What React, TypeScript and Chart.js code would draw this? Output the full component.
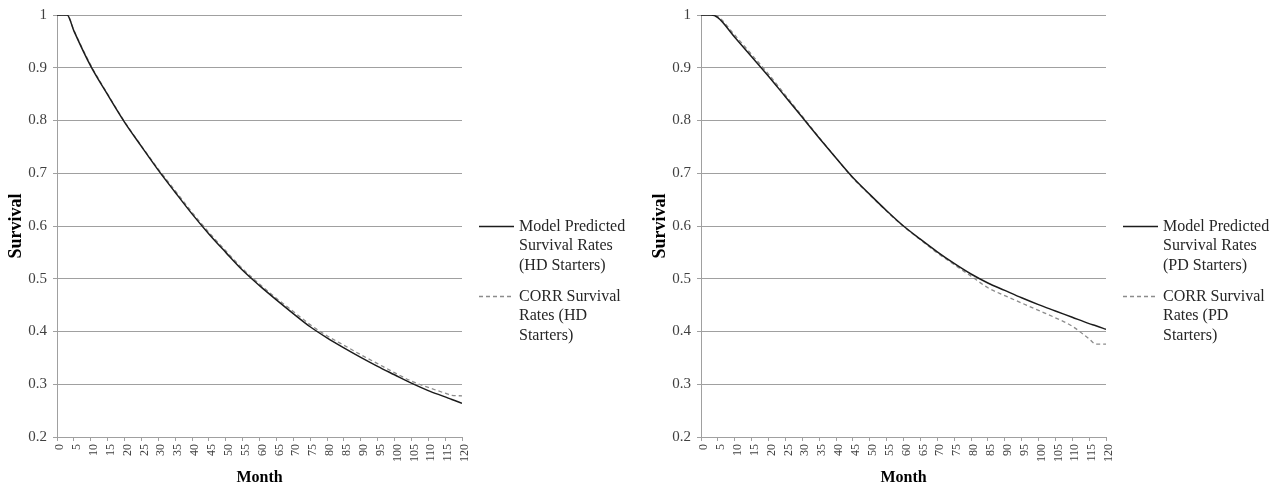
import React, { useEffect, useRef } from 'react';
import { Chart, registerables } from 'chart.js';

Chart.register(...registerables);

// ---------- data ----------
const months = [0, 3, 5, 10, 15, 20, 25, 30, 35, 40, 45, 50, 55, 60, 65, 70, 75, 80, 85, 90, 95, 100, 105, 110, 115, 117, 120];

const hdModel = [1, 1, 0.97, 0.903, 0.849, 0.797, 0.751, 0.706, 0.664, 0.623, 0.585, 0.55, 0.516, 0.487, 0.46, 0.434, 0.409, 0.388, 0.369, 0.351, 0.334, 0.318, 0.302, 0.288, 0.276, 0.271, 0.264];
const hdCorr = [1, 1, 0.971, 0.905, 0.85, 0.798, 0.752, 0.708, 0.667, 0.626, 0.588, 0.553, 0.519, 0.49, 0.463, 0.438, 0.413, 0.392, 0.374, 0.356, 0.339, 0.322, 0.306, 0.294, 0.283, 0.279, 0.278];

const pdModel = [1, 1, 0.995, 0.958, 0.921, 0.884, 0.845, 0.806, 0.767, 0.729, 0.692, 0.66, 0.629, 0.6, 0.575, 0.551, 0.529, 0.509, 0.492, 0.478, 0.464, 0.451, 0.439, 0.427, 0.415, 0.411, 0.404];
const pdCorr = [1, 1, 0.997, 0.962, 0.925, 0.888, 0.848, 0.808, 0.768, 0.729, 0.691, 0.659, 0.628, 0.599, 0.574, 0.549, 0.527, 0.505, 0.483, 0.468, 0.454, 0.44, 0.426, 0.41, 0.386, 0.376, 0.376];

const xMin = 0;
const xMax = 120;
const xStep = 5;
const yMin = 0.2;
const yMax = 1;
const yStep = 0.1;

const xTitle = 'Month';
const yTitle = 'Survival';

const hdLegendModel = ['Model Predicted', 'Survival Rates', '(HD Starters)'];
const hdLegendCorr = ['CORR Survival', 'Rates (HD', 'Starters)'];
const pdLegendModel = ['Model Predicted', 'Survival Rates', '(PD Starters)'];
const pdLegendCorr = ['CORR Survival', 'Rates (PD', 'Starters)'];

// ---------- styling ----------
const FONT = "'Liberation Serif', 'Times New Roman', serif";
const GRID = '#a0a0a0';
const TICK_COLOR = '#404040';
const MODEL_COLOR = '#1c1c1c';
const CORR_COLOR = '#8c8c8c';
const CORR_DASH = [4, 3];

const sideLegend = {
  id: 'sideLegend',
  afterDraw(chart: any, _args: any, opts: any) {
    const ctx = chart.ctx as CanvasRenderingContext2D;
    const area = chart.chartArea;
    const lx0 = area.right + 17;
    const lx1 = lx0 + 35;
    const tx = lx1 + 5;
    const lineH = 19.5;
    const startY = (area.top + area.bottom) / 2 + 0.5;
    const gap = 70;
    ctx.save();
    ctx.font = `16px ${FONT}`;
    ctx.textBaseline = 'middle';
    ctx.textAlign = 'left';
    (opts.items || []).forEach((item: any, i: number) => {
      const y = startY + i * gap;
      ctx.beginPath();
      ctx.setLineDash(item.dash || []);
      ctx.strokeStyle = item.color;
      ctx.lineWidth = item.width;
      ctx.moveTo(lx0, y);
      ctx.lineTo(lx1, y);
      ctx.stroke();
      ctx.setLineDash([]);
      ctx.fillStyle = '#262626';
      item.lines.forEach((t: string, j: number) => {
        ctx.fillText(t, tx, y + j * lineH);
      });
    });
    ctx.restore();
  },
};

function makeConfig(model: number[], corr: number[], legModel: string[], legCorr: string[]): any {
  const pts = (vals: number[]) => months.map((m, i) => ({ x: m, y: vals[i] }));
  return {
    type: 'line',
    data: {
      datasets: [
        {
          label: legModel.join(' '),
          data: pts(model),
          borderColor: MODEL_COLOR,
          borderWidth: 1.5,
          pointRadius: 0,
          cubicInterpolationMode: 'monotone',
          fill: false,
        },
        {
          label: legCorr.join(' '),
          data: pts(corr),
          borderColor: CORR_COLOR,
          borderWidth: 1.3,
          borderDash: CORR_DASH,
          pointRadius: 0,
          cubicInterpolationMode: 'monotone',
          fill: false,
        },
      ],
    },
    options: {
      animation: false,
      responsive: false,
      maintainAspectRatio: false,
      layout: { padding: { left: 0, top: 15, right: 173, bottom: 0 } },
      plugins: {
        legend: { display: false },
        tooltip: { enabled: false },
        sideLegend: {
          items: [
            { lines: legModel, color: MODEL_COLOR, width: 1.5, dash: [] },
            { lines: legCorr, color: CORR_COLOR, width: 1.3, dash: CORR_DASH },
          ],
        },
      },
      scales: {
        x: {
          type: 'linear',
          min: xMin,
          max: xMax,
          afterFit: (s: any) => {
            s.height = 52;
          },
          ticks: {
            stepSize: xStep,
            autoSkip: false,
            minRotation: 90,
            maxRotation: 90,
            labelOffset: 3,
            color: TICK_COLOR,
            padding: 3,
            font: { family: FONT, size: 12 },
          },
          grid: { drawOnChartArea: false, drawTicks: true, tickLength: 4, color: GRID },
          border: { color: GRID, width: 1 },
          title: {
            display: true,
            text: xTitle,
            color: '#000',
            font: { family: FONT, size: 16, weight: 'bold' },
            padding: { top: 0, bottom: 2 },
          },
        },
        y: {
          min: yMin,
          max: yMax,
          afterFit: (s: any) => {
            s.width = 57;
          },
          ticks: {
            stepSize: yStep,
            color: TICK_COLOR,
            padding: 6,
            font: { family: FONT, size: 15 },
            callback: (v: any) => String(Math.round(Number(v) * 10) / 10),
          },
          grid: { color: GRID, tickLength: 4, lineWidth: 1 },
          border: { color: GRID, width: 1 },
          title: {
            display: true,
            text: yTitle,
            color: '#000',
            font: { family: FONT, size: 18, weight: 'bold' },
            padding: { top: 6, bottom: 0 },
          },
        },
      },
    },
    plugins: [sideLegend],
  };
}

function SurvivalChart(props: { model: number[]; corr: number[]; legModel: string[]; legCorr: string[]; left: number }) {
  const ref = useRef<HTMLCanvasElement | null>(null);
  useEffect(() => {
    if (!ref.current) return;
    const chart = new Chart(ref.current, makeConfig(props.model, props.corr, props.legModel, props.legCorr));
    return () => chart.destroy();
  }, []);
  return (
    <canvas
      ref={ref}
      width={635}
      height={489}
      style={{ position: 'absolute', left: props.left, top: 0, width: 635, height: 489 }}
    />
  );
}

export default function App() {
  return (
    <div style={{ position: 'absolute', left: 0, top: 0, width: 1279, height: 489, background: '#fff', overflow: 'hidden' }}>
      <SurvivalChart model={hdModel} corr={hdCorr} legModel={hdLegendModel} legCorr={hdLegendCorr} left={0} />
      <SurvivalChart model={pdModel} corr={pdCorr} legModel={pdLegendModel} legCorr={pdLegendCorr} left={644} />
    </div>
  );
}
